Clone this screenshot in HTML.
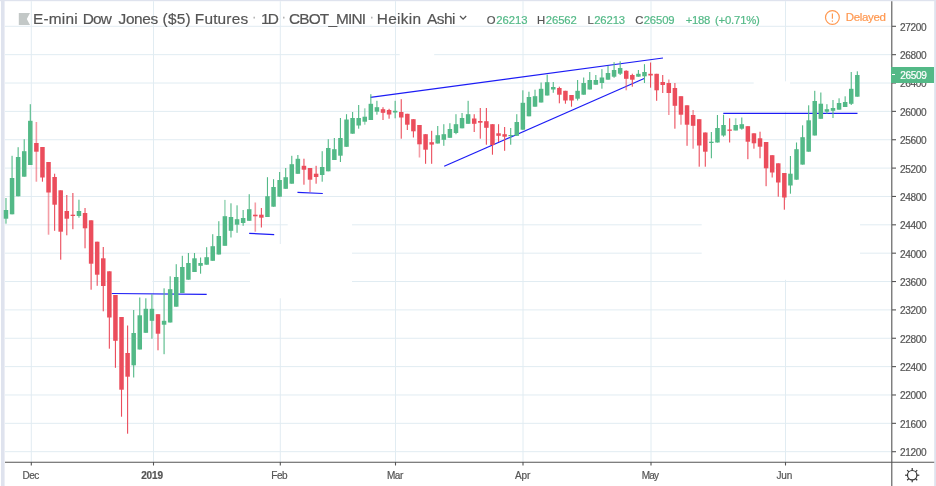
<!DOCTYPE html>
<html lang="en"><head><meta charset="utf-8"><title>E-mini Dow Jones ($5) Futures</title>
<style>
html,body{margin:0;padding:0;background:#fff;}
body{width:936px;height:486px;position:relative;overflow:hidden;font-family:"Liberation Sans",sans-serif;color:#555;}
svg{position:absolute;left:0;top:0;}
.t{position:absolute;white-space:nowrap;line-height:1;-webkit-text-stroke:0.2px currentColor;}
</style></head><body>
<svg width="936" height="486" viewBox="0 0 936 486">

<rect x="0" y="0" width="936" height="1.2" fill="#dfe3ee"/>
<rect x="1" y="0" width="3.6" height="486" fill="#dfe3ee"/>
<rect x="934.2" y="0" width="1.8" height="486" fill="#dfe3ee"/>
<g stroke="#e1ecf2" stroke-width="1">
<line x1="5" x2="891" y1="26.30" y2="26.30"/>
<line x1="5" x2="891" y1="54.66" y2="54.66"/>
<line x1="5" x2="891" y1="83.02" y2="83.02"/>
<line x1="5" x2="891" y1="111.38" y2="111.38"/>
<line x1="5" x2="891" y1="139.74" y2="139.74"/>
<line x1="5" x2="891" y1="168.10" y2="168.10"/>
<line x1="5" x2="891" y1="196.46" y2="196.46"/>
<line x1="5" x2="891" y1="224.82" y2="224.82"/>
<line x1="5" x2="891" y1="253.18" y2="253.18"/>
<line x1="5" x2="891" y1="281.54" y2="281.54"/>
<line x1="5" x2="891" y1="309.90" y2="309.90"/>
<line x1="5" x2="891" y1="338.26" y2="338.26"/>
<line x1="5" x2="891" y1="366.62" y2="366.62"/>
<line x1="5" x2="891" y1="394.98" y2="394.98"/>
<line x1="5" x2="891" y1="423.34" y2="423.34"/>
<line x1="5" x2="891" y1="451.70" y2="451.70"/>
<line x1="31.3" x2="31.3" y1="1.2" y2="462"/>
<line x1="153.5" x2="153.5" y1="1.2" y2="462"/>
<line x1="280.3" x2="280.3" y1="1.2" y2="462"/>
<line x1="395.5" x2="395.5" y1="1.2" y2="462"/>
<line x1="523" x2="523" y1="1.2" y2="462"/>
<line x1="651" x2="651" y1="1.2" y2="462"/>
<line x1="785.5" x2="785.5" y1="1.2" y2="462"/>
</g>
<rect x="250" y="244" width="102" height="54.3" fill="#fff"/>
<rect x="287.7" y="221" width="64.3" height="24" fill="#fff"/>
<rect x="701.7" y="200" width="158.3" height="79.8" fill="#fff"/>
<rect x="753.7" y="81.3" width="36.3" height="29.5" fill="#fff"/>
<rect x="120" y="272" width="32.4" height="18" fill="#fff"/>
<rect x="399.7" y="50" width="34.5" height="9" fill="#fff"/>
<g stroke="#1c1cf5" stroke-width="1.2" stroke-linecap="butt">
<line x1="111.7" y1="293.5" x2="206.7" y2="294.3"/>
<line x1="249.2" y1="233.3" x2="274.2" y2="234.7"/>
<line x1="297.5" y1="192.3" x2="322.8" y2="193.5"/>
<line x1="370.5" y1="97.3" x2="663" y2="58"/>
<line x1="444.2" y1="166.3" x2="644.7" y2="78.3"/>
<line x1="723.3" y1="113.3" x2="857.5" y2="113.3"/>
</g>
<g>
<rect x="5.43" y="198.0" width="1.1" height="25.7" fill="#53b987"/>
<rect x="3.73" y="210.0" width="4.5" height="8.7" fill="#53b987"/>
<rect x="11.51" y="155.8" width="1.1" height="58.5" fill="#53b987"/>
<rect x="9.81" y="178.0" width="4.5" height="36.3" fill="#53b987"/>
<rect x="17.59" y="147.2" width="1.1" height="49.1" fill="#53b987"/>
<rect x="15.89" y="157.0" width="4.5" height="39.3" fill="#53b987"/>
<rect x="23.67" y="139.2" width="1.1" height="37.5" fill="#53b987"/>
<rect x="21.97" y="151.2" width="4.5" height="25.5" fill="#53b987"/>
<rect x="29.75" y="104.2" width="1.1" height="60.8" fill="#53b987"/>
<rect x="28.05" y="120.8" width="4.5" height="44.2" fill="#53b987"/>
<rect x="35.58" y="122.0" width="1.6" height="59.7" fill="#eb4d5c" fill-opacity="0.55"/>
<rect x="34.13" y="143.0" width="4.5" height="8.7" fill="#eb4d5c"/>
<rect x="41.91" y="147.0" width="1.1" height="34.7" fill="#eb4d5c"/>
<rect x="40.21" y="147.0" width="4.5" height="30.5" fill="#eb4d5c"/>
<rect x="47.74" y="162.0" width="1.6" height="72.7" fill="#eb4d5c" fill-opacity="0.55"/>
<rect x="46.29" y="162.0" width="4.5" height="30.5" fill="#eb4d5c"/>
<rect x="54.07" y="173.7" width="1.1" height="57.1" fill="#eb4d5c"/>
<rect x="52.37" y="177.0" width="4.5" height="27.7" fill="#eb4d5c"/>
<rect x="60.16" y="190.3" width="1.1" height="69.4" fill="#eb4d5c"/>
<rect x="58.45" y="190.3" width="4.5" height="41.4" fill="#eb4d5c"/>
<rect x="66.24" y="195.0" width="1.1" height="40.3" fill="#eb4d5c"/>
<rect x="64.54" y="211.0" width="4.5" height="7.7" fill="#eb4d5c"/>
<rect x="72.32" y="193.0" width="1.1" height="36.2" fill="#eb4d5c"/>
<rect x="70.62" y="214.7" width="4.5" height="1.3" fill="#eb4d5c"/>
<rect x="78.40" y="199.7" width="1.1" height="18.0" fill="#53b987"/>
<rect x="76.70" y="211.0" width="4.5" height="5.0" fill="#53b987"/>
<rect x="84.48" y="208.0" width="1.1" height="40.3" fill="#eb4d5c"/>
<rect x="82.78" y="213.0" width="4.5" height="15.3" fill="#eb4d5c"/>
<rect x="90.56" y="220.3" width="1.1" height="69.4" fill="#eb4d5c"/>
<rect x="88.86" y="220.3" width="4.5" height="43.4" fill="#eb4d5c"/>
<rect x="96.64" y="241.7" width="1.1" height="44.1" fill="#eb4d5c"/>
<rect x="94.94" y="241.7" width="4.5" height="33.0" fill="#eb4d5c"/>
<rect x="102.72" y="247.0" width="1.1" height="64.3" fill="#eb4d5c"/>
<rect x="101.02" y="258.3" width="4.5" height="27.7" fill="#eb4d5c"/>
<rect x="108.80" y="271.3" width="1.1" height="77.4" fill="#eb4d5c"/>
<rect x="107.10" y="271.3" width="4.5" height="46.2" fill="#eb4d5c"/>
<rect x="114.88" y="295.0" width="1.1" height="72.8" fill="#eb4d5c"/>
<rect x="113.18" y="295.0" width="4.5" height="45.8" fill="#eb4d5c"/>
<rect x="120.97" y="317.0" width="1.1" height="99.7" fill="#eb4d5c"/>
<rect x="119.27" y="317.0" width="4.5" height="72.7" fill="#eb4d5c"/>
<rect x="127.05" y="325.5" width="1.1" height="108.2" fill="#eb4d5c"/>
<rect x="125.35" y="353.0" width="4.5" height="23.7" fill="#eb4d5c"/>
<rect x="133.13" y="310.0" width="1.1" height="67.5" fill="#53b987"/>
<rect x="131.43" y="333.0" width="4.5" height="32.3" fill="#53b987"/>
<rect x="139.21" y="297.5" width="1.1" height="52.0" fill="#53b987"/>
<rect x="137.51" y="315.3" width="4.5" height="34.2" fill="#53b987"/>
<rect x="145.29" y="298.3" width="1.1" height="34.5" fill="#53b987"/>
<rect x="143.59" y="308.8" width="4.5" height="24.0" fill="#53b987"/>
<rect x="151.37" y="294.2" width="1.1" height="44.5" fill="#53b987"/>
<rect x="149.67" y="308.8" width="4.5" height="12.0" fill="#53b987"/>
<rect x="157.45" y="314.2" width="1.1" height="36.1" fill="#eb4d5c"/>
<rect x="155.75" y="314.2" width="4.5" height="19.5" fill="#eb4d5c"/>
<rect x="163.53" y="288.3" width="1.1" height="65.9" fill="#53b987"/>
<rect x="161.83" y="320.8" width="4.5" height="3.9" fill="#53b987"/>
<rect x="169.61" y="276.3" width="1.1" height="46.2" fill="#53b987"/>
<rect x="167.91" y="289.2" width="4.5" height="33.3" fill="#53b987"/>
<rect x="175.69" y="264.2" width="1.1" height="42.5" fill="#53b987"/>
<rect x="173.99" y="277.0" width="4.5" height="29.7" fill="#53b987"/>
<rect x="181.78" y="255.8" width="1.1" height="37.2" fill="#53b987"/>
<rect x="180.08" y="267.0" width="4.5" height="26.0" fill="#53b987"/>
<rect x="187.86" y="253.0" width="1.1" height="26.7" fill="#53b987"/>
<rect x="186.16" y="263.0" width="4.5" height="16.7" fill="#53b987"/>
<rect x="193.94" y="253.0" width="1.1" height="19.0" fill="#53b987"/>
<rect x="192.24" y="258.3" width="4.5" height="13.7" fill="#53b987"/>
<rect x="200.02" y="257.5" width="1.1" height="16.2" fill="#53b987"/>
<rect x="198.32" y="263.0" width="4.5" height="2.8" fill="#53b987"/>
<rect x="206.10" y="247.2" width="1.1" height="17.5" fill="#53b987"/>
<rect x="204.40" y="257.2" width="4.5" height="7.5" fill="#53b987"/>
<rect x="212.18" y="234.2" width="1.1" height="26.6" fill="#53b987"/>
<rect x="210.48" y="246.2" width="4.5" height="14.6" fill="#53b987"/>
<rect x="218.26" y="221.2" width="1.1" height="33.3" fill="#53b987"/>
<rect x="216.56" y="236.0" width="4.5" height="18.5" fill="#53b987"/>
<rect x="224.09" y="199.9" width="1.6" height="45.9" fill="#53b987" fill-opacity="0.55"/>
<rect x="222.64" y="216.2" width="4.5" height="29.6" fill="#53b987"/>
<rect x="230.42" y="203.3" width="1.1" height="34.2" fill="#53b987"/>
<rect x="228.72" y="217.0" width="4.5" height="13.8" fill="#53b987"/>
<rect x="236.50" y="205.3" width="1.1" height="27.5" fill="#53b987"/>
<rect x="234.80" y="219.2" width="4.5" height="5.5" fill="#53b987"/>
<rect x="242.59" y="210.0" width="1.1" height="15.8" fill="#53b987"/>
<rect x="240.89" y="218.0" width="4.5" height="5.0" fill="#53b987"/>
<rect x="248.67" y="194.2" width="1.1" height="26.6" fill="#53b987"/>
<rect x="246.97" y="209.2" width="4.5" height="11.6" fill="#53b987"/>
<rect x="254.50" y="202.5" width="1.6" height="29.2" fill="#eb4d5c" fill-opacity="0.55"/>
<rect x="253.05" y="214.7" width="4.5" height="1.6" fill="#eb4d5c"/>
<rect x="260.83" y="208.0" width="1.1" height="19.5" fill="#eb4d5c"/>
<rect x="259.13" y="214.7" width="4.5" height="3.0" fill="#eb4d5c"/>
<rect x="266.91" y="177.2" width="1.1" height="39.8" fill="#53b987"/>
<rect x="265.21" y="196.2" width="4.5" height="20.8" fill="#53b987"/>
<rect x="272.99" y="179.2" width="1.1" height="27.5" fill="#53b987"/>
<rect x="271.29" y="187.0" width="4.5" height="19.7" fill="#53b987"/>
<rect x="279.07" y="172.0" width="1.1" height="24.7" fill="#53b987"/>
<rect x="277.37" y="180.0" width="4.5" height="16.7" fill="#53b987"/>
<rect x="285.15" y="168.0" width="1.1" height="20.8" fill="#53b987"/>
<rect x="283.45" y="177.2" width="4.5" height="11.6" fill="#53b987"/>
<rect x="291.23" y="155.8" width="1.1" height="27.9" fill="#53b987"/>
<rect x="289.53" y="164.2" width="4.5" height="19.5" fill="#53b987"/>
<rect x="297.31" y="155.0" width="1.1" height="18.8" fill="#53b987"/>
<rect x="295.61" y="158.8" width="4.5" height="15.0" fill="#53b987"/>
<rect x="303.40" y="158.7" width="1.1" height="26.0" fill="#eb4d5c"/>
<rect x="301.70" y="165.8" width="4.5" height="3.9" fill="#eb4d5c"/>
<rect x="309.23" y="168.0" width="1.6" height="24.0" fill="#eb4d5c" fill-opacity="0.55"/>
<rect x="307.78" y="168.0" width="4.5" height="11.7" fill="#eb4d5c"/>
<rect x="315.56" y="165.8" width="1.1" height="17.9" fill="#eb4d5c"/>
<rect x="313.86" y="173.7" width="4.5" height="3.3" fill="#eb4d5c"/>
<rect x="321.64" y="151.2" width="1.1" height="30.5" fill="#53b987"/>
<rect x="319.94" y="167.0" width="4.5" height="8.0" fill="#53b987"/>
<rect x="327.72" y="139.2" width="1.1" height="32.1" fill="#53b987"/>
<rect x="326.02" y="148.0" width="4.5" height="23.3" fill="#53b987"/>
<rect x="333.80" y="138.0" width="1.1" height="22.0" fill="#53b987"/>
<rect x="332.10" y="149.2" width="4.5" height="10.8" fill="#53b987"/>
<rect x="339.88" y="118.0" width="1.1" height="44.0" fill="#53b987"/>
<rect x="338.18" y="138.0" width="4.5" height="17.7" fill="#53b987"/>
<rect x="345.96" y="114.2" width="1.1" height="32.6" fill="#53b987"/>
<rect x="344.26" y="119.5" width="4.5" height="27.3" fill="#53b987"/>
<rect x="352.04" y="112.0" width="1.1" height="21.7" fill="#53b987"/>
<rect x="350.34" y="118.0" width="4.5" height="15.7" fill="#53b987"/>
<rect x="358.12" y="105.0" width="1.1" height="23.7" fill="#53b987"/>
<rect x="356.42" y="118.0" width="4.5" height="7.5" fill="#53b987"/>
<rect x="363.96" y="108.3" width="1.6" height="16.4" fill="#53b987" fill-opacity="0.55"/>
<rect x="362.51" y="116.7" width="4.5" height="5.0" fill="#53b987"/>
<rect x="370.29" y="94.2" width="1.1" height="25.8" fill="#53b987"/>
<rect x="368.59" y="103.8" width="4.5" height="16.2" fill="#53b987"/>
<rect x="376.37" y="100.8" width="1.1" height="13.9" fill="#53b987"/>
<rect x="374.67" y="107.2" width="4.5" height="4.5" fill="#53b987"/>
<rect x="382.45" y="107.2" width="1.1" height="12.8" fill="#eb4d5c"/>
<rect x="380.75" y="109.2" width="4.5" height="3.6" fill="#eb4d5c"/>
<rect x="388.53" y="108.8" width="1.1" height="9.9" fill="#eb4d5c"/>
<rect x="386.83" y="110.0" width="4.5" height="4.5" fill="#eb4d5c"/>
<rect x="394.61" y="100.8" width="1.1" height="17.5" fill="#53b987"/>
<rect x="392.91" y="110.8" width="4.5" height="1.7" fill="#53b987"/>
<rect x="400.69" y="99.2" width="1.1" height="39.5" fill="#eb4d5c"/>
<rect x="398.99" y="112.0" width="4.5" height="5.5" fill="#eb4d5c"/>
<rect x="406.77" y="113.8" width="1.1" height="16.2" fill="#eb4d5c"/>
<rect x="405.07" y="113.8" width="4.5" height="10.9" fill="#eb4d5c"/>
<rect x="412.85" y="119.2" width="1.1" height="18.3" fill="#eb4d5c"/>
<rect x="411.15" y="119.2" width="4.5" height="12.1" fill="#eb4d5c"/>
<rect x="418.68" y="125.0" width="1.6" height="32.5" fill="#eb4d5c" fill-opacity="0.55"/>
<rect x="417.23" y="125.0" width="4.5" height="19.3" fill="#eb4d5c"/>
<rect x="425.02" y="134.2" width="1.1" height="29.6" fill="#eb4d5c"/>
<rect x="423.32" y="134.2" width="4.5" height="15.5" fill="#eb4d5c"/>
<rect x="431.10" y="130.8" width="1.1" height="33.0" fill="#eb4d5c"/>
<rect x="429.40" y="142.2" width="4.5" height="2.4" fill="#eb4d5c"/>
<rect x="437.18" y="126.0" width="1.1" height="17.5" fill="#53b987"/>
<rect x="435.48" y="135.2" width="4.5" height="8.3" fill="#53b987"/>
<rect x="443.26" y="124.2" width="1.1" height="21.6" fill="#53b987"/>
<rect x="441.56" y="134.2" width="4.5" height="5.6" fill="#53b987"/>
<rect x="449.34" y="123.2" width="1.1" height="14.6" fill="#53b987"/>
<rect x="447.64" y="129.0" width="4.5" height="8.8" fill="#53b987"/>
<rect x="455.42" y="114.2" width="1.1" height="20.0" fill="#53b987"/>
<rect x="453.72" y="124.2" width="4.5" height="8.8" fill="#53b987"/>
<rect x="461.50" y="113.0" width="1.1" height="15.3" fill="#53b987"/>
<rect x="459.80" y="118.0" width="4.5" height="10.3" fill="#53b987"/>
<rect x="467.58" y="100.8" width="1.1" height="23.0" fill="#53b987"/>
<rect x="465.88" y="114.2" width="4.5" height="9.6" fill="#53b987"/>
<rect x="473.66" y="114.2" width="1.1" height="17.8" fill="#eb4d5c"/>
<rect x="471.96" y="118.5" width="4.5" height="5.3" fill="#eb4d5c"/>
<rect x="479.74" y="108.0" width="1.1" height="30.7" fill="#eb4d5c"/>
<rect x="478.04" y="121.0" width="4.5" height="1.7" fill="#eb4d5c"/>
<rect x="485.83" y="108.0" width="1.1" height="36.7" fill="#eb4d5c"/>
<rect x="484.13" y="121.2" width="4.5" height="6.6" fill="#eb4d5c"/>
<rect x="491.91" y="124.2" width="1.1" height="30.5" fill="#eb4d5c"/>
<rect x="490.21" y="124.2" width="4.5" height="20.8" fill="#eb4d5c"/>
<rect x="497.99" y="124.2" width="1.1" height="17.8" fill="#eb4d5c"/>
<rect x="496.29" y="133.3" width="4.5" height="2.5" fill="#eb4d5c"/>
<rect x="504.07" y="127.0" width="1.1" height="23.8" fill="#eb4d5c"/>
<rect x="502.37" y="134.2" width="4.5" height="2.5" fill="#eb4d5c"/>
<rect x="510.15" y="128.0" width="1.1" height="16.7" fill="#53b987"/>
<rect x="508.45" y="135.0" width="4.5" height="1.2" fill="#53b987"/>
<rect x="516.23" y="114.2" width="1.1" height="21.6" fill="#53b987"/>
<rect x="514.53" y="122.0" width="4.5" height="13.8" fill="#53b987"/>
<rect x="522.31" y="90.3" width="1.1" height="39.4" fill="#53b987"/>
<rect x="520.61" y="102.8" width="4.5" height="26.9" fill="#53b987"/>
<rect x="528.39" y="91.7" width="1.1" height="24.6" fill="#53b987"/>
<rect x="526.69" y="97.0" width="4.5" height="19.3" fill="#53b987"/>
<rect x="534.47" y="89.7" width="1.1" height="17.0" fill="#53b987"/>
<rect x="532.77" y="96.2" width="4.5" height="10.5" fill="#53b987"/>
<rect x="540.55" y="82.5" width="1.1" height="20.0" fill="#53b987"/>
<rect x="538.85" y="88.8" width="4.5" height="13.7" fill="#53b987"/>
<rect x="546.63" y="74.7" width="1.1" height="20.8" fill="#53b987"/>
<rect x="544.93" y="82.2" width="4.5" height="13.3" fill="#53b987"/>
<rect x="552.72" y="82.0" width="1.1" height="10.8" fill="#53b987"/>
<rect x="551.02" y="87.0" width="4.5" height="2.5" fill="#53b987"/>
<rect x="558.80" y="86.7" width="1.1" height="16.6" fill="#eb4d5c"/>
<rect x="557.10" y="88.0" width="4.5" height="6.7" fill="#eb4d5c"/>
<rect x="564.88" y="90.8" width="1.1" height="12.9" fill="#eb4d5c"/>
<rect x="563.18" y="90.8" width="4.5" height="9.7" fill="#eb4d5c"/>
<rect x="570.96" y="95.0" width="1.1" height="11.7" fill="#eb4d5c"/>
<rect x="569.26" y="95.0" width="4.5" height="5.5" fill="#eb4d5c"/>
<rect x="577.04" y="80.0" width="1.1" height="20.5" fill="#53b987"/>
<rect x="575.34" y="90.8" width="4.5" height="7.9" fill="#53b987"/>
<rect x="583.12" y="77.5" width="1.1" height="17.2" fill="#53b987"/>
<rect x="581.42" y="83.0" width="4.5" height="11.7" fill="#53b987"/>
<rect x="589.20" y="72.0" width="1.1" height="17.5" fill="#53b987"/>
<rect x="587.50" y="80.0" width="4.5" height="9.5" fill="#53b987"/>
<rect x="595.28" y="75.0" width="1.1" height="9.7" fill="#53b987"/>
<rect x="593.58" y="80.0" width="4.5" height="4.7" fill="#53b987"/>
<rect x="601.36" y="69.2" width="1.1" height="19.5" fill="#53b987"/>
<rect x="599.66" y="77.5" width="4.5" height="5.5" fill="#53b987"/>
<rect x="607.45" y="65.8" width="1.1" height="13.9" fill="#53b987"/>
<rect x="605.75" y="73.0" width="4.5" height="6.7" fill="#53b987"/>
<rect x="613.53" y="62.2" width="1.1" height="15.6" fill="#53b987"/>
<rect x="611.83" y="70.0" width="4.5" height="6.7" fill="#53b987"/>
<rect x="619.61" y="61.3" width="1.1" height="13.7" fill="#53b987"/>
<rect x="617.91" y="68.0" width="4.5" height="5.7" fill="#53b987"/>
<rect x="625.44" y="70.0" width="1.6" height="20.3" fill="#eb4d5c" fill-opacity="0.55"/>
<rect x="623.99" y="70.8" width="4.5" height="8.0" fill="#eb4d5c"/>
<rect x="631.77" y="73.7" width="1.1" height="13.0" fill="#eb4d5c"/>
<rect x="630.07" y="75.0" width="4.5" height="4.7" fill="#eb4d5c"/>
<rect x="637.85" y="70.0" width="1.1" height="6.7" fill="#53b987"/>
<rect x="636.15" y="73.8" width="4.5" height="2.9" fill="#53b987"/>
<rect x="643.93" y="64.2" width="1.1" height="18.8" fill="#53b987"/>
<rect x="642.23" y="72.0" width="4.5" height="4.3" fill="#53b987"/>
<rect x="650.01" y="62.5" width="1.1" height="25.2" fill="#eb4d5c"/>
<rect x="648.31" y="73.8" width="4.5" height="1.7" fill="#eb4d5c"/>
<rect x="656.09" y="73.8" width="1.1" height="27.0" fill="#eb4d5c"/>
<rect x="654.39" y="73.8" width="4.5" height="16.5" fill="#eb4d5c"/>
<rect x="662.17" y="75.0" width="1.1" height="18.0" fill="#eb4d5c"/>
<rect x="660.47" y="82.0" width="4.5" height="3.0" fill="#eb4d5c"/>
<rect x="668.00" y="79.5" width="1.6" height="35.5" fill="#eb4d5c" fill-opacity="0.55"/>
<rect x="666.55" y="83.0" width="4.5" height="10.0" fill="#eb4d5c"/>
<rect x="674.34" y="83.0" width="1.1" height="45.7" fill="#eb4d5c"/>
<rect x="672.64" y="88.0" width="4.5" height="17.8" fill="#eb4d5c"/>
<rect x="680.17" y="96.2" width="1.6" height="28.5" fill="#eb4d5c" fill-opacity="0.55"/>
<rect x="678.72" y="96.2" width="4.5" height="18.5" fill="#eb4d5c"/>
<rect x="686.50" y="105.3" width="1.1" height="40.5" fill="#eb4d5c"/>
<rect x="684.80" y="105.3" width="4.5" height="19.4" fill="#eb4d5c"/>
<rect x="692.33" y="110.0" width="1.6" height="38.7" fill="#eb4d5c" fill-opacity="0.55"/>
<rect x="690.88" y="115.0" width="4.5" height="10.8" fill="#eb4d5c"/>
<rect x="698.66" y="119.2" width="1.1" height="47.5" fill="#eb4d5c"/>
<rect x="696.96" y="119.2" width="4.5" height="26.3" fill="#eb4d5c"/>
<rect x="704.74" y="132.5" width="1.1" height="34.2" fill="#eb4d5c"/>
<rect x="703.04" y="132.5" width="4.5" height="19.2" fill="#eb4d5c"/>
<rect x="710.82" y="132.0" width="1.1" height="26.3" fill="#53b987"/>
<rect x="709.12" y="141.7" width="4.5" height="1.3" fill="#53b987"/>
<rect x="716.90" y="115.0" width="1.1" height="27.5" fill="#53b987"/>
<rect x="715.20" y="128.0" width="4.5" height="14.5" fill="#53b987"/>
<rect x="722.98" y="114.7" width="1.1" height="22.0" fill="#53b987"/>
<rect x="721.28" y="125.0" width="4.5" height="10.5" fill="#53b987"/>
<rect x="729.07" y="118.3" width="1.1" height="24.2" fill="#eb4d5c"/>
<rect x="727.37" y="129.5" width="4.5" height="1.3" fill="#eb4d5c"/>
<rect x="734.90" y="118.3" width="1.6" height="12.2" fill="#53b987" fill-opacity="0.55"/>
<rect x="733.45" y="125.0" width="4.5" height="5.5" fill="#53b987"/>
<rect x="741.23" y="117.5" width="1.1" height="12.2" fill="#53b987"/>
<rect x="739.53" y="124.2" width="4.5" height="4.5" fill="#53b987"/>
<rect x="747.31" y="126.2" width="1.1" height="33.0" fill="#eb4d5c"/>
<rect x="745.61" y="126.2" width="4.5" height="15.5" fill="#eb4d5c"/>
<rect x="753.39" y="133.3" width="1.1" height="15.4" fill="#eb4d5c"/>
<rect x="751.69" y="133.3" width="4.5" height="10.0" fill="#eb4d5c"/>
<rect x="759.47" y="131.7" width="1.1" height="26.6" fill="#eb4d5c"/>
<rect x="757.77" y="138.3" width="4.5" height="8.4" fill="#eb4d5c"/>
<rect x="765.55" y="142.0" width="1.1" height="44.2" fill="#eb4d5c"/>
<rect x="763.85" y="142.0" width="4.5" height="26.3" fill="#eb4d5c"/>
<rect x="771.63" y="155.2" width="1.1" height="22.3" fill="#eb4d5c"/>
<rect x="769.93" y="155.2" width="4.5" height="17.3" fill="#eb4d5c"/>
<rect x="777.71" y="163.3" width="1.1" height="33.4" fill="#eb4d5c"/>
<rect x="776.01" y="163.3" width="4.5" height="19.2" fill="#eb4d5c"/>
<rect x="783.79" y="173.0" width="1.1" height="36.7" fill="#eb4d5c"/>
<rect x="782.09" y="173.0" width="4.5" height="24.5" fill="#eb4d5c"/>
<rect x="789.88" y="156.0" width="1.1" height="37.7" fill="#53b987"/>
<rect x="788.17" y="173.7" width="4.5" height="11.8" fill="#53b987"/>
<rect x="795.96" y="142.5" width="1.1" height="37.2" fill="#53b987"/>
<rect x="794.26" y="149.2" width="4.5" height="30.5" fill="#53b987"/>
<rect x="802.04" y="125.3" width="1.1" height="39.3" fill="#53b987"/>
<rect x="800.34" y="137.2" width="4.5" height="27.4" fill="#53b987"/>
<rect x="808.12" y="105.3" width="1.1" height="46.4" fill="#53b987"/>
<rect x="806.42" y="120.3" width="4.5" height="31.4" fill="#53b987"/>
<rect x="814.20" y="90.8" width="1.1" height="44.7" fill="#53b987"/>
<rect x="812.50" y="101.0" width="4.5" height="34.5" fill="#53b987"/>
<rect x="820.28" y="92.5" width="1.1" height="26.3" fill="#53b987"/>
<rect x="818.58" y="103.7" width="4.5" height="15.1" fill="#53b987"/>
<rect x="826.36" y="104.2" width="1.1" height="9.5" fill="#53b987"/>
<rect x="824.66" y="109.2" width="4.5" height="2.5" fill="#53b987"/>
<rect x="832.44" y="100.0" width="1.1" height="18.0" fill="#53b987"/>
<rect x="830.74" y="108.0" width="4.5" height="2.8" fill="#53b987"/>
<rect x="838.52" y="98.3" width="1.1" height="11.4" fill="#53b987"/>
<rect x="836.82" y="103.0" width="4.5" height="6.7" fill="#53b987"/>
<rect x="844.60" y="96.3" width="1.1" height="10.7" fill="#53b987"/>
<rect x="842.90" y="102.0" width="4.5" height="5.0" fill="#53b987"/>
<rect x="850.69" y="72.0" width="1.1" height="33.0" fill="#53b987"/>
<rect x="848.99" y="88.8" width="4.5" height="15.0" fill="#53b987"/>
<rect x="856.77" y="71.3" width="1.1" height="25.4" fill="#53b987"/>
<rect x="855.07" y="75.0" width="4.5" height="21.7" fill="#53b987"/>
</g>
<g stroke="#555" stroke-width="1.1">
<line x1="891.8" x2="891.8" y1="1.2" y2="486"/>
<line x1="5" x2="934.2" y1="462.2" y2="462.2"/>
<line x1="892" x2="896" y1="26.30" y2="26.30"/>
<line x1="892" x2="896" y1="54.66" y2="54.66"/>
<line x1="892" x2="896" y1="83.02" y2="83.02"/>
<line x1="892" x2="896" y1="111.38" y2="111.38"/>
<line x1="892" x2="896" y1="139.74" y2="139.74"/>
<line x1="892" x2="896" y1="168.10" y2="168.10"/>
<line x1="892" x2="896" y1="196.46" y2="196.46"/>
<line x1="892" x2="896" y1="224.82" y2="224.82"/>
<line x1="892" x2="896" y1="253.18" y2="253.18"/>
<line x1="892" x2="896" y1="281.54" y2="281.54"/>
<line x1="892" x2="896" y1="309.90" y2="309.90"/>
<line x1="892" x2="896" y1="338.26" y2="338.26"/>
<line x1="892" x2="896" y1="366.62" y2="366.62"/>
<line x1="892" x2="896" y1="394.98" y2="394.98"/>
<line x1="892" x2="896" y1="423.34" y2="423.34"/>
<line x1="892" x2="896" y1="451.70" y2="451.70"/>
<line x1="31.3" x2="31.3" y1="462" y2="465.5"/>
<line x1="153.5" x2="153.5" y1="462" y2="465.5"/>
<line x1="280.3" x2="280.3" y1="462" y2="465.5"/>
<line x1="395.5" x2="395.5" y1="462" y2="465.5"/>
<line x1="523" x2="523" y1="462" y2="465.5"/>
<line x1="651" x2="651" y1="462" y2="465.5"/>
<line x1="785.5" x2="785.5" y1="462" y2="465.5"/>
</g>
<path d="M18.8 13 H30 L26.8 19 L30 25 H18.8 Z" fill="#c3c8c7"/>
<g stroke="#ff9850" fill="none" stroke-width="1.2"><circle cx="832.4" cy="17.5" r="6.9"/><line x1="832.4" y1="13.4" x2="832.4" y2="18.8"/><line x1="832.4" y1="20.4" x2="832.4" y2="21.8"/></g>
<path d="M460 16 L463.1 19.1 L466.2 16" fill="none" stroke="#555" stroke-width="1.3"/>
<g stroke="#333" fill="none" stroke-width="1.2"><circle cx="912.2" cy="475.2" r="4.7"/>
<line x1="916.90" y1="475.20" x2="919.30" y2="475.20"/>
<line x1="915.52" y1="478.52" x2="917.22" y2="480.22"/>
<line x1="912.20" y1="479.90" x2="912.20" y2="482.30"/>
<line x1="908.88" y1="478.52" x2="907.18" y2="480.22"/>
<line x1="907.50" y1="475.20" x2="905.10" y2="475.20"/>
<line x1="908.88" y1="471.88" x2="907.18" y2="470.18"/>
<line x1="912.20" y1="470.50" x2="912.20" y2="468.10"/>
<line x1="915.52" y1="471.88" x2="917.22" y2="470.18"/>
</g>
</svg>
<div class="t" style="left:32.90px;top:11.16px;font-size:15.4px;color:#555;letter-spacing:0.227px;">E-mini</div>
<div class="t" style="left:82.70px;top:11.16px;font-size:15.4px;color:#555;letter-spacing:-0.769px;">Dow</div>
<div class="t" style="left:118.60px;top:11.16px;font-size:15.4px;color:#555;letter-spacing:-0.379px;">Jones</div>
<div class="t" style="left:162.60px;top:11.16px;font-size:15.4px;color:#555;letter-spacing:0.203px;">($5)</div>
<div class="t" style="left:194.80px;top:11.16px;font-size:15.4px;color:#555;letter-spacing:0.185px;">Futures</div>
<div class="t" style="left:261.00px;top:11.16px;font-size:15.4px;color:#555;letter-spacing:-1.843px;">1D</div>
<div class="t" style="left:289.00px;top:11.16px;font-size:15.4px;color:#555;letter-spacing:-0.839px;">CBOT_MINI</div>
<div class="t" style="left:376.80px;top:11.16px;font-size:15.4px;color:#555;letter-spacing:0.284px;">Heikin</div>
<div class="t" style="left:427.00px;top:11.16px;font-size:15.4px;color:#555;letter-spacing:-0.490px;">Ashi</div>
<div class="t" style="left:252.20px;top:11.34px;font-size:12px;color:#aaa;">·</div>
<div class="t" style="left:281.70px;top:11.34px;font-size:12px;color:#aaa;">·</div>
<div class="t" style="left:369.70px;top:11.34px;font-size:12px;color:#aaa;">·</div>
<div class="t" style="left:486.70px;top:14.83px;font-size:11.3px;color:#555;letter-spacing:-0.789px;">O</div>
<div class="t" style="left:496.20px;top:14.83px;font-size:11.3px;color:#53b987;letter-spacing:-0.025px;">26213</div>
<div class="t" style="left:537.00px;top:14.83px;font-size:11.3px;color:#555;letter-spacing:-0.961px;">H</div>
<div class="t" style="left:545.80px;top:14.83px;font-size:11.3px;color:#53b987;letter-spacing:-0.105px;">26562</div>
<div class="t" style="left:587.50px;top:14.83px;font-size:11.3px;color:#555;letter-spacing:-0.785px;">L</div>
<div class="t" style="left:594.20px;top:14.83px;font-size:11.3px;color:#53b987;letter-spacing:-0.125px;">26213</div>
<div class="t" style="left:635.30px;top:14.83px;font-size:11.3px;color:#555;letter-spacing:-1.761px;">C</div>
<div class="t" style="left:643.70px;top:14.83px;font-size:11.3px;color:#53b987;letter-spacing:-0.125px;">26509</div>
<div class="t" style="left:685.80px;top:14.83px;font-size:11.3px;color:#53b987;letter-spacing:-0.313px;">+188</div>
<div class="t" style="left:715.00px;top:14.83px;font-size:11.3px;color:#53b987;letter-spacing:-0.183px;">(+0.71%)</div>
<div class="t" style="left:845.70px;top:12.37px;font-size:11.5px;color:#ff9850;letter-spacing:-0.342px;">Delayed</div>
<div class="t" style="left:899.90px;top:22.75px;font-size:10.1px;color:#555;letter-spacing:-0.337px;">27200</div>
<div class="t" style="left:899.90px;top:51.11px;font-size:10.1px;color:#555;letter-spacing:-0.337px;">26800</div>
<div class="t" style="left:899.90px;top:79.47px;font-size:10.1px;color:#555;letter-spacing:-0.337px;">26400</div>
<div class="t" style="left:899.90px;top:107.83px;font-size:10.1px;color:#555;letter-spacing:-0.337px;">26000</div>
<div class="t" style="left:899.90px;top:136.19px;font-size:10.1px;color:#555;letter-spacing:-0.337px;">25600</div>
<div class="t" style="left:899.90px;top:164.55px;font-size:10.1px;color:#555;letter-spacing:-0.337px;">25200</div>
<div class="t" style="left:899.90px;top:192.91px;font-size:10.1px;color:#555;letter-spacing:-0.337px;">24800</div>
<div class="t" style="left:899.90px;top:221.27px;font-size:10.1px;color:#555;letter-spacing:-0.337px;">24400</div>
<div class="t" style="left:899.90px;top:249.63px;font-size:10.1px;color:#555;letter-spacing:-0.337px;">24000</div>
<div class="t" style="left:899.90px;top:277.99px;font-size:10.1px;color:#555;letter-spacing:-0.337px;">23600</div>
<div class="t" style="left:899.90px;top:306.35px;font-size:10.1px;color:#555;letter-spacing:-0.337px;">23200</div>
<div class="t" style="left:899.90px;top:334.71px;font-size:10.1px;color:#555;letter-spacing:-0.337px;">22800</div>
<div class="t" style="left:899.90px;top:363.07px;font-size:10.1px;color:#555;letter-spacing:-0.337px;">22400</div>
<div class="t" style="left:899.90px;top:391.43px;font-size:10.1px;color:#555;letter-spacing:-0.337px;">22000</div>
<div class="t" style="left:899.90px;top:419.79px;font-size:10.1px;color:#555;letter-spacing:-0.337px;">21600</div>
<div class="t" style="left:899.90px;top:448.15px;font-size:10.1px;color:#555;letter-spacing:-0.337px;">21200</div>
<div style="position:absolute;left:891.3px;top:66.8px;width:42.9px;height:16.4px;background:#53b987"><div style="position:absolute;left:0.8px;top:7.6px;width:3.4px;height:1px;background:#fff"></div></div>
<div class="t" style="left:900.20px;top:70.65px;font-size:10.1px;color:#fff;letter-spacing:-0.377px;">26509</div>
<div class="t" style="left:22.50px;top:471.24px;font-size:10px;color:#555;letter-spacing:-0.528px;">Dec</div>
<div class="t" style="left:141.20px;top:471.24px;font-size:10px;color:#555;letter-spacing:-0.162px;font-weight:bold;">2019</div>
<div class="t" style="left:271.20px;top:471.24px;font-size:10px;color:#555;letter-spacing:-0.377px;">Feb</div>
<div class="t" style="left:387.00px;top:471.24px;font-size:10px;color:#555;letter-spacing:-0.474px;">Mar</div>
<div class="t" style="left:515.00px;top:471.24px;font-size:10px;color:#555;letter-spacing:-0.087px;">Apr</div>
<div class="t" style="left:641.70px;top:471.24px;font-size:10px;color:#555;letter-spacing:-0.764px;">May</div>
<div class="t" style="left:776.50px;top:471.24px;font-size:10px;color:#555;letter-spacing:-0.208px;">Jun</div>
</body></html>
